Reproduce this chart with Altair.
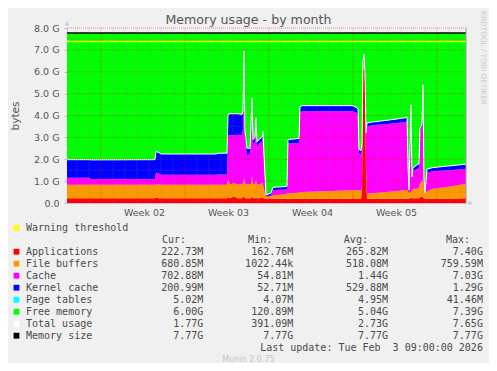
import altair as alt
import pandas as pd

# ---------------- data ----------------
MEM_SIZE = 7.77      # G
WARNING = 7.38       # G

# time axis: days from the left edge of the graph
days = [0, 1.833, 2.0, 7.333, 7.417, 7.667, 7.833, 12.417, 12.583, 13.333,
        13.417, 13.583, 13.917, 14.25, 14.583, 14.667, 14.75, 14.833, 15.0, 15.25,
        15.333, 15.417, 15.5, 15.667, 15.75, 15.833, 16.083, 16.25, 16.333, 16.417,
        16.583, 17.0, 17.167, 18.25, 18.333, 18.417, 19.333, 19.417, 19.583, 23.75,
        24.083, 24.25, 24.333, 24.5, 24.583, 24.667, 24.75, 24.833, 24.917, 25.0,
        25.417, 26.917, 28.25, 28.333, 28.417, 28.5, 28.667, 28.75, 28.833, 29.167,
        29.333, 29.417, 29.583, 29.667, 29.75, 29.833, 30.0, 30.5, 31.917, 33.25]

# cumulative tops of the stacked areas (G)
apps_top = [.22, .22, .22, .22, .25, .22, .22, .22, .22, .22,
            .28, .22, .30, .22, .22, .30, .30, .22, .22, .22,
            .22, .35, .22, .22, .25, .22, .22, .25, .22, .22,
            .20, .20, .20, .20, .20, .20, .20, .20, .20, .20,
            .20, .20, .20, .20, .50, 6.00, 6.60, 5.50, 1.50, .20,
            .20, .20, .20, .20, .20, .20, .25, .22, .22, .22,
            .22, .25, .30, .30, .20, .20, .20, .20, .20, .22]
buffers_top = [.83, .83, .83, .83, .85, .85, .83, .83, .83, .83,
               1.10, .85, .90, .85, .85, .90, 1.15, .90, .85, .85,
               .90, 1.25, .90, .85, 1.05, .85, .85, .95, .85, .60,
               .29, .30, .35, .40, .45, .45, .47, .50, .50, .58,
               .58, .58, .58, .55, .80, 6.10, 6.65, 5.60, 1.70, .42,
               .45, .52, .60, .60, .55, .45, .50, .60, .65, .65,
               .70, .90, 1.00, 1.10, .50, .40, .55, .65, .75, .885]
cache_top = [1.15, 1.15, 1.10, 1.10, 1.40, 1.35, 1.29, 1.29, 1.30, 1.30,
             3.10, 3.10, 3.10, 3.12, 3.10, 3.40, 6.70, 3.00, 2.20, 2.25,
             3.20, 4.40, 2.70, 2.80, 3.60, 2.60, 2.75, 2.80, 3.10, 2.00,
             .32, .34, .60, .62, .65, 2.72, 2.74, 4.15, 4.20, 4.20,
             4.15, 4.00, 2.30, 2.20, 2.50, 6.30, 6.70, 5.80, 3.00, 3.50,
             3.55, 3.62, 3.70, 3.75, 1.50, .55, 3.60, 1.00, 1.45, 1.55,
             1.60, 3.20, 3.50, 5.20, 1.00, .42, 1.40, 1.45, 1.50, 1.57]
kernel_top = [1.98, 1.98, 1.97, 1.98, 2.36, 2.30, 2.24, 2.24, 2.28, 2.28,
              4.05, 4.08, 4.08, 4.08, 4.05, 4.20, 6.96, 3.30, 2.50, 2.50,
              3.60, 4.81, 2.90, 3.00, 3.90, 2.80, 2.95, 3.00, 3.28, 2.20,
              .37, .46, .72, .75, .78, 2.90, 2.95, 4.40, 4.45, 4.45,
              4.38, 4.30, 2.45, 2.40, 2.70, 6.50, 6.80, 6.00, 3.20, 3.66,
              3.70, 3.80, 3.90, 3.95, 1.70, .60, 4.50, 1.20, 1.60, 1.75,
              1.80, 3.39, 3.60, 5.40, 1.10, .45, 1.55, 1.62, 1.70, 1.775]

# axis ticks / grid
y_ticks = [0, 1, 2, 3, 4, 5, 6, 7, 8]
y_major = [1, 2, 3, 4, 5, 6, 7, 8]
y_minor = [0.5, 1.5, 2.5, 3.5, 4.5, 5.5, 6.5, 7.5]
x_major = [2.833, 9.833, 16.833, 23.833, 30.833]
x_minor = [0.833, 1.833, 3.833, 4.833, 5.833, 6.833, 7.833, 8.833, 10.833, 11.833,
           12.833, 13.833, 14.833, 15.833, 17.833, 18.833, 19.833, 20.833, 21.833,
           22.833, 24.833, 25.833, 26.833, 27.833, 28.833, 29.833, 31.833, 32.833]
week_pos = [6.417, 13.417, 20.417, 27.417]
week_labels = ["Week 02", "Week 03", "Week 04", "Week 05"]

# legend
legend_names = ["Applications", "File buffers", "Cache", "Kernel cache",
                "Page tables", "Free memory", "Total usage", "Memory size"]
legend_colors = ["#FF0000", "#FF9900", "#FF00FF", "#0000FF",
                 "#00FFFF", "#00FF00", "#FFFFFF", "#000000"]
cur_vals = ["222.73M", "680.85M", "702.88M", "200.99M", "5.02M", "6.00G", "1.77G", "7.77G"]
min_vals = ["162.76M", "1022.44k", "54.81M", "52.71M", "4.07M", "120.89M", "391.09M", "7.77G"]
avg_vals = ["265.82M", "518.08M", "1.44G", "529.88M", "4.95M", "5.04G", "2.73G", "7.77G"]
max_vals = ["7.40G", "759.59M", "7.03G", "1.29G", "41.46M", "7.39G", "7.65G", "7.77G"]
headers = ["Cur:", "Min:", "Avg:", "Max:"]
last_update = "Last update: Tue Feb \u00a03 09:00:00 2026"
title_text = "Memory usage - by month"
credit_text = "RRDTOOL / TOBI OETIKER"
munin_text = "Munin 2.0.75"

# ---------------- tables ----------------
area_series = ["Applications", "File buffers", "Cache", "Kernel cache", "Free memory"]
area_colors = ["#FF0000", "#FF9900", "#FF00FF", "#0000FF", "#00FF00"]
area_tops = [apps_top, buffers_top, cache_top, kernel_top, [MEM_SIZE] * len(days)]
rows = []
for i, t in enumerate(days):
    lo = 0.0
    for s, c, top in zip(area_series, area_colors, area_tops):
        rows.append({"t": t, "series": s, "c": c, "lo": lo, "hi": top[i]})
        lo = top[i]
df_area = pd.DataFrame(rows)
df_total = pd.DataFrame({"t": days, "total": kernel_top})
df_levels = pd.DataFrame({"v": [WARNING, MEM_SIZE], "c": ["#FFFF00", "#000000"]})
XMAX = days[-1]

# ---------------- main plot ----------------
XD = alt.Scale(domain=[0, XMAX], nice=False, zero=False)
YD = alt.Scale(domain=[0, 8], nice=False, zero=True)
AXC = "#b4bcd4"
TXT = "#555555"

x_axis = alt.Axis(values=week_pos, title=None, ticks=False, grid=False,
                  labelExpr="['Week 02','Week 03','Week 04','Week 05'][round((datum.value-6.417)/7)]",
                  labelFont="DejaVu Sans", labelFontSize=9.5, labelColor=TXT,
                  labelPadding=4, domainColor=AXC, labelFlush=False, labelOverlap=False)
y_axis = alt.Axis(values=y_ticks, grid=False,
                  labelExpr="datum.value == 0 ? '0.0' : format(datum.value, '.1f') + ' G'",
                  labelFont="DejaVu Sans", labelFontSize=9.5, labelColor=TXT,
                  labelPadding=5, tickSize=3, tickColor=AXC, domainColor=AXC,
                  labelOverlap=False, labelFlush=False,
                  title="bytes", titleFont="DejaVu Sans", titleFontSize=10.5,
                  titleFontWeight="normal", titleColor=TXT, titleX=-52, titleY=87.5,
                  titleAlign="center", titleBaseline="middle")


def X(field):
    return alt.X(field, scale=XD, axis=x_axis)


def Y(field):
    return alt.Y(field, scale=YD, axis=y_axis)


areas = alt.Chart(df_area).mark_area(interpolate="linear").encode(
    x=X("t:Q"), y=Y("lo:Q"), y2="hi:Q",
    color=alt.Color("c:N", scale=None),
)
total_line = alt.Chart(df_total).mark_line(color="#FFFFFF", strokeWidth=1).encode(
    x=X("t:Q"), y=Y("total:Q"))
levels = alt.Chart(df_levels).mark_rule(strokeWidth=1.4).encode(
    y=Y("v:Q"), color=alt.Color("c:N", scale=None))


def hgrid(vals, color, op):
    return alt.Chart(pd.DataFrame({"v": vals})).mark_rule(
        color=color, opacity=op, strokeDash=[1, 1], strokeWidth=1).encode(y=Y("v:Q"))


def vgrid(vals, color, op):
    return alt.Chart(pd.DataFrame({"v": vals})).mark_rule(
        color=color, opacity=op, strokeDash=[1, 1], strokeWidth=1).encode(x=X("v:Q"))


grid = [vgrid(x_minor, "#808080", 0.35), hgrid(y_minor, "#808080", 0.35),
        vgrid(x_major, "#FF0000", 0.4), hgrid(y_major, "#FF0000", 0.4)]
border = alt.Chart(pd.DataFrame({"v": [XMAX]})).mark_rule(color="#9a9a9a").encode(x=X("v:Q"))
arrows = alt.Chart(pd.DataFrame({"x": [0, 33.62], "y": [8.21, 0],
                                 "s": ["triangle-up", "triangle-right"]})).mark_point(
    filled=True, size=22, color="#b8c8f0", opacity=1).encode(
    x=X("x:Q"), y=Y("y:Q"), shape=alt.Shape("s:N", scale=None))

main = alt.layer(areas, total_line, levels, *grid, border, arrows)

# ---------------- legend & captions (character columns / text rows) ----------------
COL = {"box": -1.58, "label": 0, "cur": 29.45, "min": 44.4, "avg": 60.15, "max": 75.9,
       "cur_h": 26.6, "min_h": 40.9, "avg_h": 56.8, "max_h": 73.75,
       "center": 36.95, "credit": 75.85}
ROW = {"title": -17.35, "credit": -14.15, "warn": 0, "head": 1, "first": 2,
       "update": 10, "munin": 11}

box_rows = [{"col": COL["box"], "row": ROW["warn"], "c": "#FFFF00"}]
left_rows = [{"col": COL["label"], "row": ROW["warn"], "text": "Warning threshold"}]
right_rows = []
for k, h in zip(["cur_h", "min_h", "avg_h", "max_h"], headers):
    right_rows.append({"col": COL[k], "row": ROW["head"], "text": h})
for i, name in enumerate(legend_names):
    r = ROW["first"] + i
    box_rows.append({"col": COL["box"], "row": r, "c": legend_colors[i]})
    left_rows.append({"col": COL["label"], "row": r, "text": name})
    for k, vals in zip(["cur", "min", "avg", "max"], [cur_vals, min_vals, avg_vals, max_vals]):
        right_rows.append({"col": COL[k], "row": r, "text": vals[i]})
right_rows.append({"col": COL["max"], "row": ROW["update"], "text": last_update})

LX = alt.X("col:Q", scale=alt.Scale(domain=[0, 100], range=[-41, 561]), axis=None)
LY = alt.Y("row:Q", scale=alt.Scale(domain=[0, 11], range=[199.7, 331.7]), axis=None)

boxes = alt.Chart(pd.DataFrame(box_rows)).mark_square(size=34, opacity=1).encode(
    x=LX, y=LY, color=alt.Color("c:N", scale=None))
mono = dict(font="DejaVu Sans Mono", fontSize=10, color="#4a4a4a", baseline="middle")
left_txt = alt.Chart(pd.DataFrame(left_rows)).mark_text(align="left", **mono).encode(
    x=LX, y=LY, text="text:N")
right_txt = alt.Chart(pd.DataFrame(right_rows)).mark_text(align="right", **mono).encode(
    x=LX, y=LY, text="text:N")
munin_txt = alt.Chart(pd.DataFrame([{"col": COL["center"], "row": ROW["munin"], "text": munin_text}])).mark_text(
    align="center", baseline="middle", font="DejaVu Sans", fontSize=8, color="#c4c4c4").encode(
    x=LX, y=LY, text="text:N")
credit_txt = alt.Chart(pd.DataFrame([{"col": COL["credit"], "row": ROW["credit"], "text": credit_text}])).mark_text(
    align="center", baseline="middle", angle=90, font="DejaVu Sans", fontSize=7.3, color="#cccccc").encode(
    x=LX, y=LY, text="text:N")
title_txt = alt.Chart(pd.DataFrame([{"col": COL["center"], "row": ROW["title"], "text": title_text}])).mark_text(
    align="center", baseline="middle", font="DejaVu Sans", fontSize=12.6, color=TXT).encode(
    x=LX, y=LY, text="text:N")

legend = alt.layer(boxes, left_txt, right_txt, munin_txt, credit_txt, title_txt)

chart = alt.layer(main, legend).resolve_scale(x="independent", y="independent").properties(
    width=399, height=175,
    autosize=alt.AutoSizeParams(type="none"),
    padding={"left": 59, "top": 20, "right": 23, "bottom": 160},
).configure(background="#F0F0F0").configure_view(stroke=None)

chart.save("out.html", embed_options={"renderer": "svg", "actions": False})
